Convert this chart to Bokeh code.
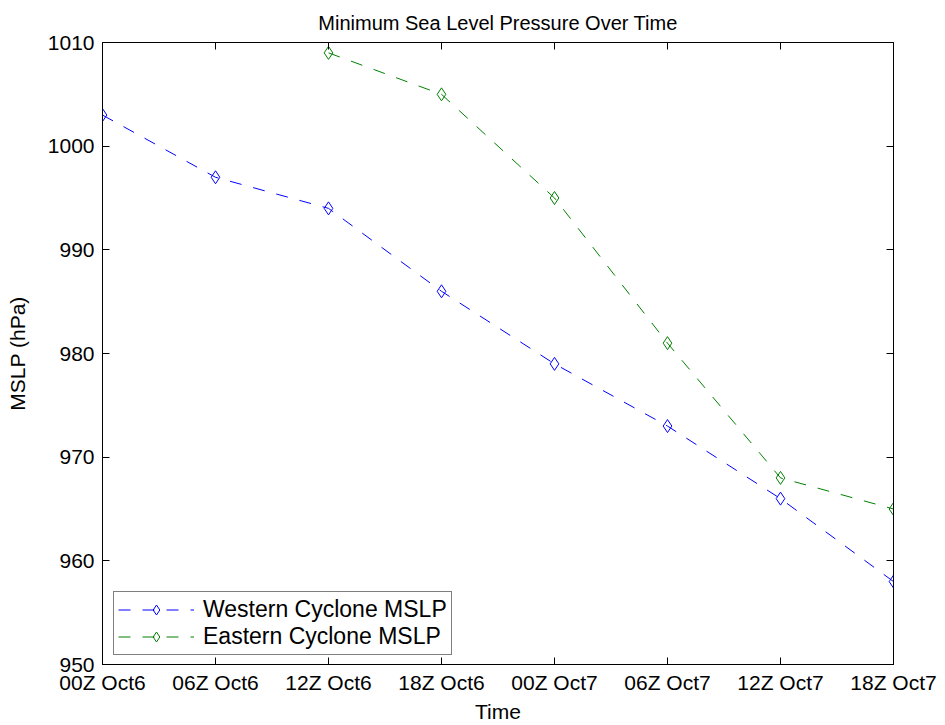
from bokeh.plotting import figure
from bokeh.models import (LinearAxis, FixedTicker, Range1d, Legend, LegendItem)
from bokeh.embed import file_html
from bokeh.resources import INLINE

times = ["00Z Oct6", "06Z Oct6", "12Z Oct6", "18Z Oct6",
         "00Z Oct7", "06Z Oct7", "12Z Oct7", "18Z Oct7"]
western_mslp = [1003, 997, 994, 986, 979, 973, 966, 958]
eastern_times = ["12Z Oct6", "18Z Oct6", "00Z Oct7", "06Z Oct7", "12Z Oct7", "18Z Oct7"]
eastern_mslp = [1009, 1005, 995, 981, 968, 965]
y_ticks = [950, 960, 970, 980, 990, 1000, 1010]

FONT = "Liberation Sans"

wx = [times.index(t) for t in times]
ex = [times.index(t) for t in eastern_times]

p = figure(width=945, height=725, output_backend="svg", toolbar_location=None,
           x_range=Range1d(0, len(times) - 1), y_range=Range1d(950, 1010),
           min_border_left=102, min_border_right=52, min_border_top=42,
           min_border_bottom=60, title="Minimum Sea Level Pressure Over Time")

p.title.align = "center"
p.title.text_font = FONT
p.title.text_font_size = "20px"
p.title.text_font_style = "normal"
p.title.text_color = "black"
p.title.standoff = 18

p.xgrid.visible = False
p.ygrid.visible = False
p.outline_line_color = "black"
p.outline_line_width = 1
p.background_fill_color = "white"
p.border_fill_color = "white"

xt = FixedTicker(ticks=list(range(len(times))))
yt = FixedTicker(ticks=y_ticks)

for ax in p.xaxis:
    ax.ticker = xt
    ax.major_label_overrides = {i: t for i, t in enumerate(times)}
    ax.axis_label = "Time"
    ax.major_label_standoff = 6
    ax.axis_label_standoff = 3
for ax in p.yaxis:
    ax.ticker = yt
    ax.axis_label = "MSLP (hPa)"
    ax.major_label_standoff = 8
    ax.axis_label_standoff = 16

for ax in list(p.xaxis) + list(p.yaxis):
    ax.major_tick_in = 7
    ax.major_tick_out = 0
    ax.minor_tick_line_color = None
    ax.axis_line_color = "black"
    ax.major_tick_line_color = "black"
    ax.major_label_text_font = FONT
    ax.major_label_text_font_size = "21px"
    ax.major_label_text_color = "black"
    ax.axis_label_text_font = FONT
    ax.axis_label_text_font_size = "21px"
    ax.axis_label_text_font_style = "normal"
    ax.axis_label_text_color = "black"

top = LinearAxis(ticker=xt, major_tick_in=7, major_tick_out=0,
                 minor_tick_line_color=None,
                 major_label_overrides={i: "" for i in range(len(times))},
                 major_label_standoff=0)
right = LinearAxis(ticker=yt, major_tick_in=7, major_tick_out=0,
                   minor_tick_line_color=None,
                   major_label_overrides={v: "" for v in y_ticks},
                   major_label_standoff=0)
p.add_layout(top, "above")
p.add_layout(right, "right")

blue = "#0000ff"
green = "#008000"
dash = "12 12"

wl = p.line(wx, western_mslp, line_color=blue, line_dash=dash, line_width=1)
ws = p.scatter(wx, western_mslp, marker="diamond", size=13, fill_color=None,
               line_color=blue, line_width=1)
el = p.line(ex, eastern_mslp, line_color=green, line_dash=dash, line_width=1)
es = p.scatter(ex, eastern_mslp, marker="diamond", size=13, fill_color=None,
               line_color=green, line_width=1)

legend = Legend(items=[LegendItem(label="Western Cyclone MSLP", renderers=[wl, ws]),
                       LegendItem(label="Eastern Cyclone MSLP", renderers=[el, es])],
                location=(11, 9), label_text_font=FONT, label_text_font_size="23px",
                label_text_color="black", border_line_color="black",
                border_line_width=1, glyph_width=76, glyph_height=25,
                label_height=25, label_standoff=9, padding=4, spacing=0, margin=0,
                background_fill_alpha=1)
p.add_layout(legend, "center")

open("out.html", "w").write(file_html(p, INLINE))
